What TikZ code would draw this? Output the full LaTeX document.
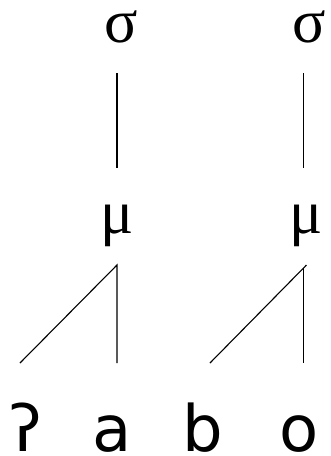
\documentclass[tikz,border=0pt]{standalone}
\usepackage{fontspec}
\newfontfamily\grk{Liberation Serif}
\newfontfamily\ipa{DejaVu Sans}
\begin{document}
\begin{tikzpicture}[x=1pt,y=-1pt,
  lab/.style={inner sep=0pt, anchor=base},
  grklab/.style={lab, text height=30pt, text depth=14pt, font=\grk\fontsize{62}{70}\selectfont},
  ipalab/.style={lab, text height=50pt, text depth=1pt, font=\ipa\fontsize{64}{72}\selectfont},
  br/.style={line width=1.1pt}]
\useasboundingbox (0,0) rectangle (331,456);
\node[grklab] (s1) at (121,42) {σ};
\node[grklab] (s2) at (309,42) {σ};
\node[grklab] (m1) at (117,233) {μ};
\node[grklab] (m2) at (306,233) {μ};
\node[ipalab] (g) at (26,451) {ʔ};
\node[ipalab] (a) at (112,451) {a};
\node[ipalab] (b) at (203,451) {b};
\node[ipalab] (o) at (299,451) {o};
\coordinate (s1b) at (117,73);
\coordinate (m1t) at (117,168);
\coordinate (s2b) at (303.5,73);
\coordinate (m2t) at (303.5,168);
\coordinate (m1b) at (117,265);
\coordinate (m2b) at (306.5,265);
\coordinate (gt) at (20,363);
\coordinate (at) at (117,363);
\coordinate (bt) at (210,363);
\coordinate (ot) at (303.5,363);
\draw[br] (s1b) -- (m1t);
\draw[br] (s2b) -- (m2t);
\draw[br] (gt) -- (m1b) -- (at);
\draw[br] (bt) -- (m2b);
\draw[br] (303.5,267.5) -- (ot);
\end{tikzpicture}
\end{document}
